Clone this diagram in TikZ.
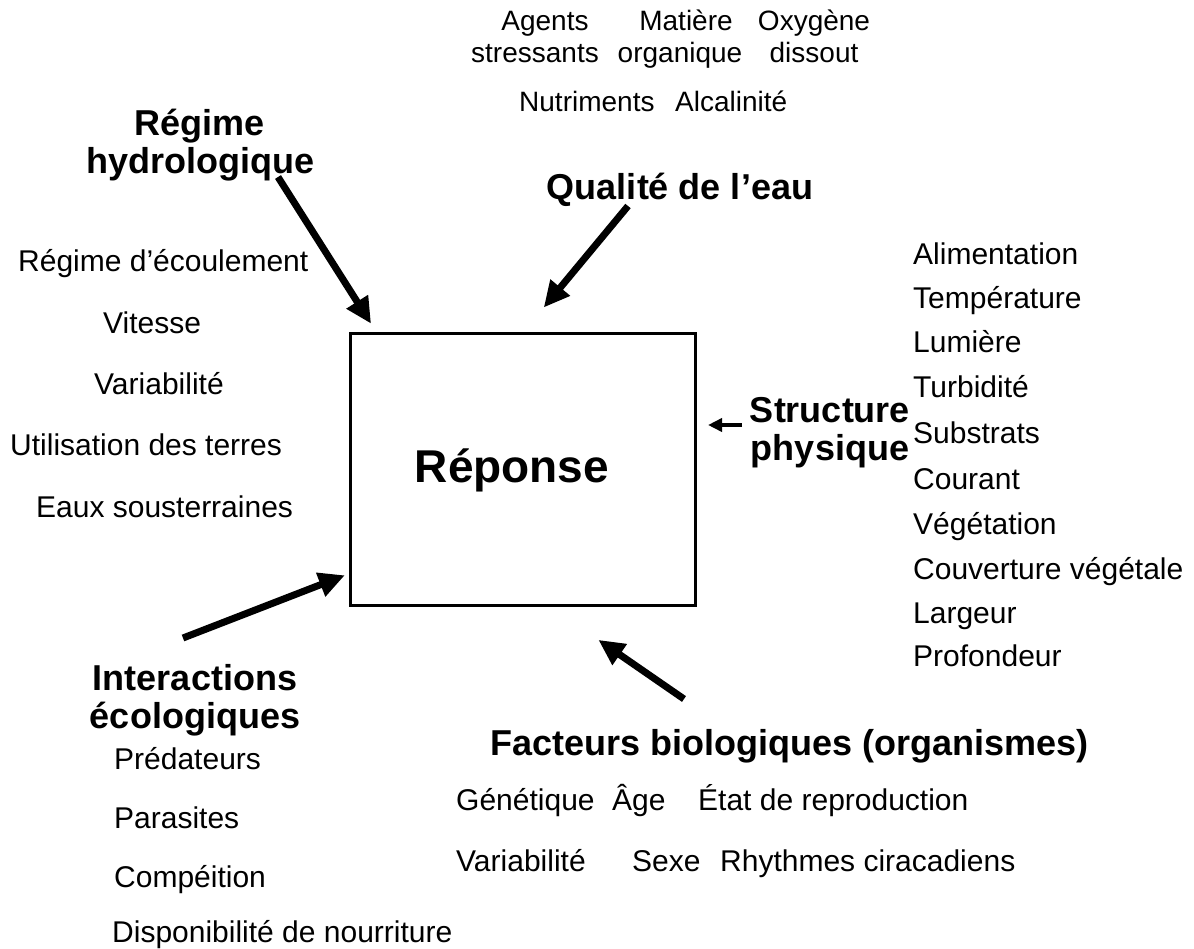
\documentclass[tikz,border=0pt]{standalone}
\usepackage{fontspec}
\setmainfont{Liberation Sans}
\usetikzlibrary{arrows.meta}
\begin{document}
\begin{tikzpicture}[x=1pt,y=-1pt,
  item/.style={font=\fontsize{30}{34}\selectfont, inner sep=0pt, anchor=base west},
  topitem/.style={font=\fontsize{28}{32}\selectfont, inner sep=0pt, anchor=base},
  head/.style={font=\fontsize{36}{38}\selectfont\bfseries, inner sep=0pt, align=center},
  bigarrow/.style={-{Triangle[length=26pt,width=24pt]}, line width=7pt, shorten >=-2pt},
  smallarrow/.style={-{Triangle[length=14pt,width=13pt]}, line width=4pt}]
\useasboundingbox (0,0) rectangle (1194,948);

% central box
\node[draw, line width=3pt, minimum width=345pt, minimum height=272pt, inner sep=0pt] (box) at (523,469) {};
\node[font=\fontsize{46}{50}\selectfont\bfseries, inner sep=0pt] (rep) at (512,470) {Réponse};

% hydrological regime
\node[head] (hydro) at (200,145) {Régime\\hydrologique};
\node[item] (h1) at (18,271) {Régime d’écoulement};
\node[item] (h2) at (103,333) {Vitesse};
\node[item] (h3) at (94,394) {Variabilité};
\node[item] (h4) at (10,455) {Utilisation des terres};
\node[item] (h5) at (36,517) {Eaux sousterraines};

% water quality
\node[topitem] (q1) at (545,30) {Agents};
\node[topitem] (q2) at (535,62) {stressants};
\node[topitem] (q3) at (686,30) {Matière};
\node[topitem] (q4) at (680,62) {organique};
\node[topitem] (q5) at (814,30) {Oxygène};
\node[topitem] (q6) at (814,62) {dissout};
\node[topitem, anchor=base west] (q7) at (519,111) {Nutriments};
\node[topitem, anchor=base west] (q8) at (675,111) {Alcalinité};
\node[head] (qual) at (680,190) {Qualité de l’eau};

% physical structure
\node[head] (phys) at (830,433) {Structure\\physique};
\node[item] (p1) at (913,264) {Alimentation};
\node[item] (p2) at (913,308) {Température};
\node[item] (p3) at (913,352) {Lumière};
\node[item] (p4) at (913,397) {Turbidité};
\node[item] (p5) at (913,443) {Substrats};
\node[item] (p6) at (913,489) {Courant};
\node[item] (p7) at (913,534) {Végétation};
\node[item] (p8) at (913,579) {Couverture végétale};
\node[item] (p9) at (913,623) {Largeur};
\node[item] (p10) at (913,666) {Profondeur};

% ecological interactions
\node[head] (inter) at (195,700) {Interactions\\écologiques};
\node[item] (i1) at (114,769) {Prédateurs};
\node[item] (i2) at (114,828) {Parasites};
\node[item] (i3) at (114,887) {Compéition};
\node[item] (i4) at (112,942) {Disponibilité de nourriture};

% biological factors
\node[head, anchor=base west] (bio) at (490,755) {Facteurs biologiques (organismes)};
\node[item] (b1) at (456,810) {Génétique};
\node[item] (b2) at (612,810) {Âge};
\node[item] (b3) at (698,810) {État de reproduction};
\node[item] (b4) at (456,871) {Variabilité};
\node[item] (b5) at (632,871) {Sexe};
\node[item] (b6) at (720,871) {Rhythmes ciracadiens};

% arrows towards the response box
\coordinate (hydroT) at (278,177);
\coordinate (hydroH) at (370,322);
\coordinate (qualT) at (628,206);
\coordinate (qualH) at (545,306);
\coordinate (physT) at (742,425);
\coordinate (physH) at (708,425);
\coordinate (interT) at (183,638);
\coordinate (interH) at (343,576);
\coordinate (bioT) at (684,699);
\coordinate (bioH) at (600,641);
\draw[bigarrow] (hydroT) -- (hydroH);
\draw[bigarrow] (qualT) -- (qualH);
\draw[smallarrow] (physT) -- (physH);
\draw[bigarrow] (interT) -- (interH);
\draw[bigarrow] (bioT) -- (bioH);
\end{tikzpicture}
\end{document}
